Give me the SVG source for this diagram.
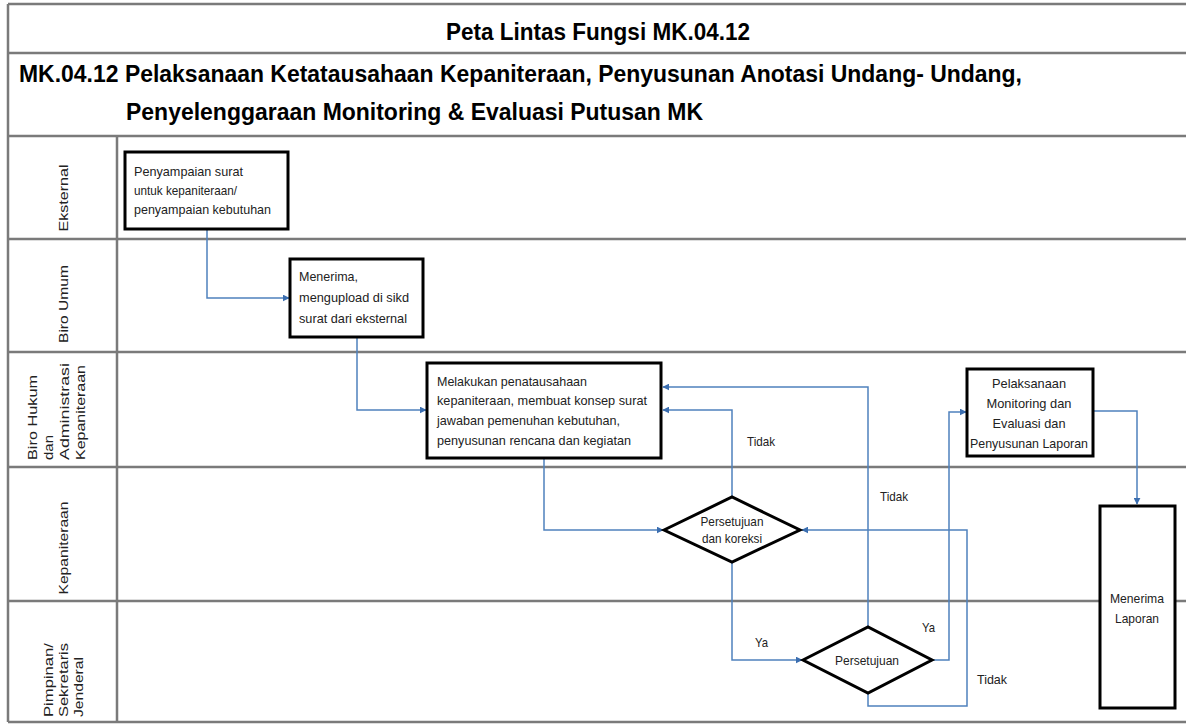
<svg xmlns="http://www.w3.org/2000/svg" width="1186" height="724" viewBox="0 0 1186 724">
<style>
.frame{stroke:#7a7a7a;stroke-width:2.5;fill:none}
.box{fill:#fff;stroke:#000;stroke-width:3}
.t{font-family:"Liberation Sans",Arial,sans-serif;font-size:13.5px;fill:#222}
.lane{font-family:"Liberation Sans",Arial,sans-serif;font-size:13.5px;fill:#222}
.hd{font-family:"Liberation Sans",Arial,sans-serif;font-weight:bold;fill:#000}
.c{fill:none;stroke:#4f81bd;stroke-width:1.5}
.lbl{font-family:"Liberation Sans",Arial,sans-serif;font-size:13px;fill:#222}
</style>
<defs>
<marker id="ah" viewBox="0 0 10 10" refX="9" refY="5" markerWidth="7" markerHeight="7" orient="auto" markerUnits="userSpaceOnUse">
<path d="M0,0 L10,5 L0,10 z" fill="#3b6eb0"/>
</marker>
</defs>
<rect width="1186" height="724" fill="#fff"/>
<g id="frame">
<line class="frame" x1="8" y1="4" x2="1186" y2="4"/>
<line class="frame" x1="8" y1="53" x2="1186" y2="53"/>
<line class="frame" x1="8" y1="136" x2="1186" y2="136"/>
<line class="frame" x1="8" y1="239" x2="1186" y2="239"/>
<line class="frame" x1="8" y1="352" x2="1186" y2="352"/>
<line class="frame" x1="8" y1="467" x2="1186" y2="467"/>
<line class="frame" x1="8" y1="601" x2="1186" y2="601"/>
<line class="frame" x1="8" y1="722" x2="1186" y2="722"/>
<line class="frame" x1="8" y1="4" x2="8" y2="722"/>
<line class="frame" x1="117" y1="136" x2="117" y2="722"/>
</g>
<g id="header">
<text class="hd" x="446" y="40" font-size="23" textLength="304" lengthAdjust="spacingAndGlyphs">Peta Lintas Fungsi MK.04.12</text>
<text class="hd" x="19" y="82" font-size="24.5" textLength="1003" lengthAdjust="spacingAndGlyphs">MK.04.12 Pelaksanaan Ketatausahaan Kepaniteraan, Penyusunan Anotasi Undang- Undang,</text>
<text class="hd" x="126" y="120" font-size="24.5" textLength="577" lengthAdjust="spacingAndGlyphs">Penyelenggaraan Monitoring &amp; Evaluasi Putusan MK</text>
</g>
<g id="lanes">
<text class="lane" transform="translate(68,198) rotate(-90)" text-anchor="middle" textLength="67" lengthAdjust="spacingAndGlyphs">Eksternal</text>
<text class="lane" transform="translate(68,304) rotate(-90)" text-anchor="middle" textLength="78" lengthAdjust="spacingAndGlyphs">Biro Umum</text>
<text class="lane" transform="translate(37,460) rotate(-90)" textLength="85" lengthAdjust="spacingAndGlyphs">Biro Hukum</text>
<text class="lane" transform="translate(53,460) rotate(-90)" textLength="25" lengthAdjust="spacingAndGlyphs">dan</text>
<text class="lane" transform="translate(69,460) rotate(-90)" textLength="97" lengthAdjust="spacingAndGlyphs">Administrasi</text>
<text class="lane" transform="translate(85,460) rotate(-90)" textLength="95" lengthAdjust="spacingAndGlyphs">Kepaniteraan</text>
<text class="lane" transform="translate(68,548) rotate(-90)" text-anchor="middle" textLength="93" lengthAdjust="spacingAndGlyphs">Kepaniteraan</text>
<text class="lane" transform="translate(53,717) rotate(-90)" textLength="74" lengthAdjust="spacingAndGlyphs">Pimpinan/</text>
<text class="lane" transform="translate(68,717) rotate(-90)" textLength="74" lengthAdjust="spacingAndGlyphs">Sekretaris</text>
<text class="lane" transform="translate(83,717) rotate(-90)" textLength="60" lengthAdjust="spacingAndGlyphs">Jenderal</text>
</g>
<g id="connectors">
<path class="c" d="M207,229 V298 H289" marker-end="url(#ah)"/>
<path class="c" d="M357,337 V410 H426" marker-end="url(#ah)"/>
<path class="c" d="M544,458 V530 H663" marker-end="url(#ah)"/>
<path class="c" d="M732,497 V410 H663" marker-end="url(#ah)"/>
<path class="c" d="M868,627 V387 H663" marker-end="url(#ah)"/>
<path class="c" d="M732,562 V660 H802" marker-end="url(#ah)"/>
<path class="c" d="M932,660 H949 V412 H966" marker-end="url(#ah)"/>
<path class="c" d="M1093,411 H1137 V504" marker-end="url(#ah)"/>
<path class="c" d="M868,693 V706 H967 V530 H802" marker-end="url(#ah)"/>
<text class="lbl" x="747" y="446" textLength="28" lengthAdjust="spacingAndGlyphs">Tidak</text>
<text class="lbl" x="880" y="501" textLength="28" lengthAdjust="spacingAndGlyphs">Tidak</text>
<text class="lbl" x="977" y="684" textLength="30" lengthAdjust="spacingAndGlyphs">Tidak</text>
<text class="lbl" x="755" y="647" textLength="13" lengthAdjust="spacingAndGlyphs">Ya</text>
<text class="lbl" x="922" y="632" textLength="13" lengthAdjust="spacingAndGlyphs">Ya</text>
</g>
<g id="n1">
<rect class="box" x="125" y="152" width="163" height="77"/>
<text class="t" x="134" y="176" textLength="109" lengthAdjust="spacingAndGlyphs">Penyampaian surat</text>
<text class="t" x="134" y="195" textLength="103" lengthAdjust="spacingAndGlyphs">untuk kepaniteraan/</text>
<text class="t" x="134" y="214" textLength="137" lengthAdjust="spacingAndGlyphs">penyampaian kebutuhan</text>
</g>
<g id="n2">
<rect class="box" x="290" y="259" width="133" height="78"/>
<text class="t" x="299" y="281" textLength="59" lengthAdjust="spacingAndGlyphs">Menerima,</text>
<text class="t" x="299" y="302" textLength="110" lengthAdjust="spacingAndGlyphs">mengupload di sikd</text>
<text class="t" x="299" y="323" textLength="108" lengthAdjust="spacingAndGlyphs">surat dari eksternal</text>
</g>
<g id="n3">
<rect class="box" x="427" y="363" width="234" height="95"/>
<text class="t" x="437" y="386" textLength="150" lengthAdjust="spacingAndGlyphs">Melakukan penatausahaan</text>
<text class="t" x="437" y="405" textLength="210" lengthAdjust="spacingAndGlyphs">kepaniteraan, membuat konsep surat</text>
<text class="t" x="437" y="425" textLength="183" lengthAdjust="spacingAndGlyphs">jawaban pemenuhan kebutuhan,</text>
<text class="t" x="437" y="445" textLength="194" lengthAdjust="spacingAndGlyphs">penyusunan rencana dan kegiatan</text>
</g>
<g id="n4">
<polygon class="box" points="664,530 732,497 800,530 732,562"/>
<text class="t" x="732" y="526" text-anchor="middle" textLength="63" lengthAdjust="spacingAndGlyphs">Persetujuan</text>
<text class="t" x="732" y="543" text-anchor="middle" textLength="60" lengthAdjust="spacingAndGlyphs">dan koreksi</text>
</g>
<g id="n5">
<polygon class="box" points="803,660 868,627 932,660 868,693"/>
<text class="t" x="867" y="665" text-anchor="middle" textLength="64" lengthAdjust="spacingAndGlyphs">Persetujuan</text>
</g>
<g id="n6">
<rect class="box" x="967" y="369" width="126" height="87"/>
<text class="t" x="1029" y="388" text-anchor="middle" textLength="74" lengthAdjust="spacingAndGlyphs">Pelaksanaan</text>
<text class="t" x="1029" y="408" text-anchor="middle" textLength="85" lengthAdjust="spacingAndGlyphs">Monitoring dan</text>
<text class="t" x="1029" y="428" text-anchor="middle" textLength="73" lengthAdjust="spacingAndGlyphs">Evaluasi dan</text>
<text class="t" x="1029" y="448" text-anchor="middle" textLength="118" lengthAdjust="spacingAndGlyphs">Penyusunan Laporan</text>
</g>
<g id="n7">
<rect class="box" x="1100" y="506" width="75" height="202"/>
<text class="t" x="1137" y="603" text-anchor="middle" textLength="54" lengthAdjust="spacingAndGlyphs">Menerima</text>
<text class="t" x="1137" y="623" text-anchor="middle" textLength="44" lengthAdjust="spacingAndGlyphs">Laporan</text>
</g>
</svg>
